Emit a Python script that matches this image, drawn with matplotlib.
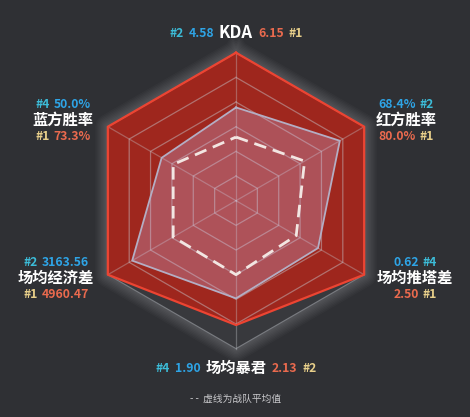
import numpy as np
import matplotlib
matplotlib.use('Agg')
import matplotlib.pyplot as plt

plt.rcParams['font.family'] = ['Noto Sans CJK SC', 'DejaVu Sans']

# data
categories = ['KDA', '红方胜率', '场均推塔差', '场均暴君', '场均经济差', '蓝方胜率']
blue_vals = ['4.58', '68.4%', '0.62', '1.90', '3163.56', '50.0%']
blue_rank = ['#2', '#2', '#4', '#4', '#2', '#4']
red_vals = ['6.15', '80.0%', '2.50', '2.13', '4960.47', '73.3%']
red_rank = ['#1', '#1', '#1', '#2', '#1', '#1']
# normalised radii
red_r = [1.0, 1.0, 1.0, 0.84, 1.0, 1.0]
blue_r = [0.63, 0.81, 0.64, 0.66, 0.81, 0.58]
avg_r = [0.43, 0.535, 0.47, 0.50, 0.49, 0.49]

BG = '#2f3034'
C_BRANK = '#3cbcd8'
C_BVAL = '#2ea4e6'
C_RVAL = '#ea6a4e'
C_RRANK = '#e8cf8a'

W, H = 470, 417
fig = plt.figure(figsize=(W / 100, H / 100), dpi=100, facecolor=BG)
ax = fig.add_axes([0, 0, 1, 1])
ax.set_xlim(0, W)
ax.set_ylim(H, 0)
ax.set_facecolor(BG)
ax.axis('off')

cx, cy, R = 236, 200.7, 148
ang = np.radians([90, 30, -30, -90, -150, 150])


def poly(r):
    r = np.asarray(r, dtype=float)
    x = cx + R * r * np.cos(ang)
    y = cy - R * r * np.sin(ang)
    return np.append(x, x[0]), np.append(y, y[0])


# soft glow round the outer ring
ox, oy = poly([1] * 6)
for lw in np.linspace(18, 2, 9):
    ax.plot(ox, oy, color='white', lw=lw, alpha=0.025, solid_joinstyle='round', zorder=1)
ax.fill(ox, oy, color='#35363a', zorder=2)

# ring bands
levels = np.arange(6, 0, -1) / 6
for i, lv in enumerate(levels):
    gx, gy = poly([lv] * 6)
    ax.fill(gx, gy, color='white', alpha=0.02 if i % 2 == 0 else 0.045, lw=0, zorder=2)

# red team
rx, ry = poly(red_r)
ax.fill(rx, ry, color='#a8251b', alpha=0.92, lw=0, zorder=3)

# grid lines
for lv in levels:
    gx, gy = poly([lv] * 6)
    ax.plot(gx, gy, color='#c8ccd2', lw=0.9, alpha=0.45, zorder=4)
for a in ang:
    ax.plot([cx, cx + R * np.cos(a)], [cy, cy - R * np.sin(a)],
            color='#c8ccd2', lw=0.9, alpha=0.35, zorder=4)
ax.plot(rx, ry, color='#ec4432', lw=1.6, zorder=5)

# blue team
bx, by = poly(blue_r)
ax.fill(bx, by, color='#d0b4e0', alpha=0.3, lw=0, zorder=6)
ax.plot(bx, by, color='#b4aec4', lw=1.3, zorder=6)

# average
vx, vy = poly(avg_r)
ax.plot(vx, vy, color='#f2e6e2', lw=2, ls=(0, (4.5, 2.5)), zorder=7)


renderer = fig.canvas.get_renderer()


def seg_line(x, y, parts, gap=4):
    texts = []
    for s, c, fs in parts:
        t = ax.text(0, y, s, color=c, fontsize=fs, fontweight='bold',
                    ha='left', va='center', zorder=10)
        texts.append(t)
    widths = [t.get_window_extent(renderer).width for t in texts]
    start = x - (sum(widths) + gap * (len(widths) - 1)) / 2
    for t, w in zip(texts, widths):
        t.set_x(start)
        start += w + gap


NUM = 8.8
NAME = 11

# top and bottom: single line
for i, y in [(0, 33), (3, 368)]:
    seg_line(236, y, [(blue_rank[i], C_BRANK, NUM), (blue_vals[i], C_BVAL, NUM),
                      (categories[i], 'white', NAME + (1 if i == 0 else 0)),
                      (red_vals[i], C_RVAL, NUM), (red_rank[i], C_RRANK, NUM)], gap=5)

# sides: three lines
side_pos = {1: (406, 120), 2: (415, 278), 4: (56, 278), 5: (63, 120)}
for i, (x, y) in side_pos.items():
    if x > cx:
        top = [(blue_vals[i], C_BVAL, NUM), (blue_rank[i], C_BRANK, NUM)]
        bot = [(red_vals[i], C_RVAL, NUM), (red_rank[i], C_RRANK, NUM)]
    else:
        top = [(blue_rank[i], C_BRANK, NUM), (blue_vals[i], C_BVAL, NUM)]
        bot = [(red_rank[i], C_RRANK, NUM), (red_vals[i], C_RVAL, NUM)]
    seg_line(x, y - 16, top)
    seg_line(x, y, [(categories[i], 'white', NAME)])
    seg_line(x, y + 16, bot)

ax.text(236, 399, '- -  虚线为战队平均值', color='#c9c9cc', fontsize=7,
        ha='center', va='center')

fig.savefig('out.png', dpi=100, facecolor=BG)
